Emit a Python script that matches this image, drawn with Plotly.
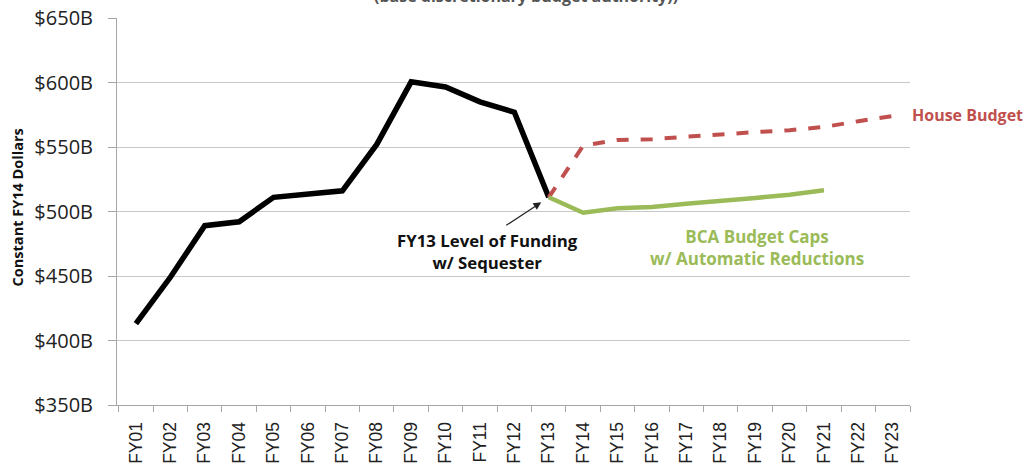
import plotly.graph_objects as go

years = ["FY01","FY02","FY03","FY04","FY05","FY06","FY07","FY08","FY09","FY10","FY11","FY12",
         "FY13","FY14","FY15","FY16","FY17","FY18","FY19","FY20","FY21","FY22","FY23"]
actual_years = years[:13]
actual = [413, 449, 489, 492, 511, 513.5, 516, 552, 600.5, 596.5, 585, 577, 511]
house_years = years[12:]
house = [511, 551, 555.5, 556, 558, 560, 561.5, 563, 565.5, 570, 574]
bca_years = years[12:21]
bca = [511, 499, 502.5, 503.5, 506, 508, 510.5, 513, 516.5]
y_ticks = [350, 400, 450, 500, 550, 600, 650]
y_labels = ["$350B", "$400B", "$450B", "$500B", "$550B", "$600B", "$650B"]

fig = go.Figure()
fig.add_trace(go.Scatter(x=actual_years, y=actual, mode="lines",
                         line=dict(color="#000000", width=5.5), showlegend=False))
fig.add_trace(go.Scatter(x=house_years, y=house, mode="lines",
                         line=dict(color="#c0504d", width=4, dash="dash"), showlegend=False))
fig.add_trace(go.Scatter(x=bca_years, y=bca, mode="lines",
                         line=dict(color="#9bbb59", width=4.5), showlegend=False))

font_main = "Open Sans, Liberation Sans, sans-serif"
fig.update_layout(
    width=1034, height=470,
    margin=dict(l=117, r=124, t=18, b=65, autoexpand=False),
    plot_bgcolor="white", paper_bgcolor="white",
    xaxis=dict(type="category", categoryorder="array", categoryarray=years, automargin=False,
               range=[-0.55, 22.5], showgrid=False, showline=True, linecolor="#a6a6a6",
               ticks="outside", ticklen=6, tickcolor="#a6a6a6", tickson="boundaries",
               ticklabelstandoff=9,
               tickangle=-90, tickfont=dict(family="Liberation Sans, Arial", size=17.5, color="#222")),
    yaxis=dict(range=[350, 650], tickvals=y_ticks, ticktext=y_labels, showgrid=True, automargin=False,
               gridcolor="#c8c8c8", gridwidth=1, showline=True, linecolor="#a6a6a6",
               ticks="outside", ticklen=8, tickcolor="#a6a6a6", zeroline=False,
               ticklabelstandoff=11,
               tickfont=dict(family=font_main, size=20, color="#222")),
)

fig.add_annotation(x=-0.125, xref="paper", xanchor="center", y=0.5, yref="paper", yanchor="middle",
                   yshift=4, textangle=-90, text="<b>Constant FY14 Dollars</b>", showarrow=False,
                   font=dict(family=font_main, size=14.5, color="#111"))
fig.add_annotation(x=0.5, xref="paper", y=1, yref="paper", yanchor="bottom", yshift=9, xshift=12,
                   text="<b>(base discretionary budget authority))</b>", showarrow=False,
                   font=dict(family=font_main, size=16, color="#555"))
fig.add_annotation(x=1.0, xref="paper", xanchor="left", xshift=0, y=574, yref="y",
                   yshift=1, text="<b>House Budget</b>", showarrow=False,
                   font=dict(family=font_main, size=16, color="#c0504d"))
fig.add_annotation(x="FY11", y=500, yref="y", text="<b>FY13 Level of Funding<br>w/ Sequester</b>",
                   showarrow=False, xshift=8, yshift=-40,
                   font=dict(family=font_main, size=16.8, color="#111"))
fig.add_annotation(x="FY13", y=511, ax=-44, ay=29, axref="pixel", ayref="pixel",
                   text="", showarrow=True, arrowhead=2, arrowsize=1.3, arrowwidth=1.2,
                   arrowcolor="#222", standoff=9)
fig.add_annotation(x="FY19", y=500, yref="y", text="<b>BCA Budget Caps<br>w/ Automatic Reductions</b>",
                   showarrow=False, xshift=2, yshift=-36,
                   font=dict(family=font_main, size=17, color="#9bbb59"))

fig.write_html("out.html", config={"displayModeBar": False},
               post_script="document.body.style.margin='0';document.documentElement.style.overflow='hidden';")
